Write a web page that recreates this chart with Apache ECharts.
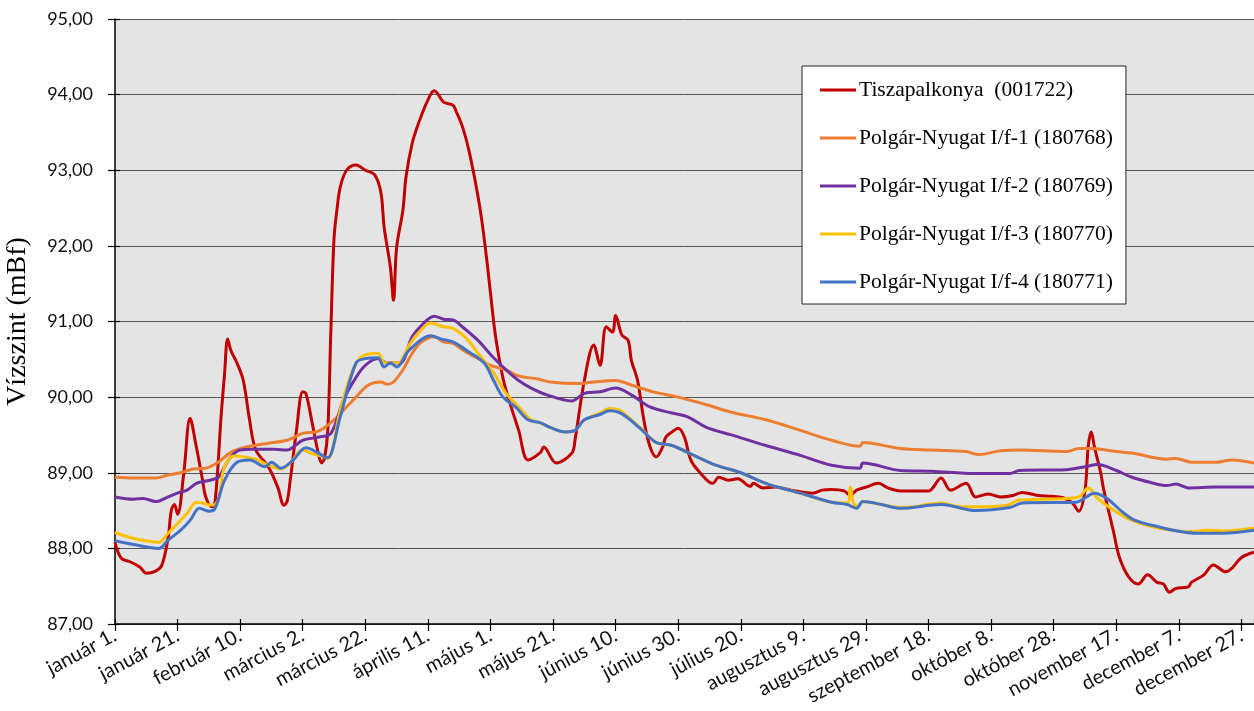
<!DOCTYPE html>
<html lang="hu">
<head>
<meta charset="utf-8">
<title>Vízszint</title>
<script src="https://cdn.jsdelivr.net/npm/echarts@6/dist/echarts.min.js"></script>
<style>
  html, body { margin: 0; padding: 0; background: #ffffff; }
  #chart { width: 1254px; height: 711px; }
</style>
</head>
<body>
<div id="chart"></div>
<script>
// Day-of-year tick labels (every 20 days from January 1)
const dateLabels = [
  'január 1.', 'január 21.', 'február 10.', 'március 2.', 'március 22.',
  'április 11.', 'május 1.', 'május 21.', 'június 10.', 'június 30.',
  'július 20.', 'augusztus 9.', 'augusztus 29.', 'szeptember 18.', 'október 8.',
  'október 28.', 'november 17.', 'december 7.', 'december 27.'
];

const seriesNames = [
  'Tiszapalkonya  (001722)',
  'Polgár-Nyugat I/f-1 (180768)',
  'Polgár-Nyugat I/f-2 (180769)',
  'Polgár-Nyugat I/f-3 (180770)',
  'Polgár-Nyugat I/f-4 (180771)'
];

// [day of year, water level in mBf]
const tiszapalkonya = [
  [0,88.08],[2,87.87],[5,87.82],[8,87.75],[10,87.67],[13,87.70],[15,87.78],[17,88.15],
  [18,88.50],[19,88.58],[20,88.45],[22,89.00],[24,89.72],[26,89.34],[28,88.90],[29,88.68],
  [31,88.55],[32,88.62],[34,89.80],[35,90.30],[36,90.77],[37,90.62],[39,90.45],[41,90.22],
  [43,89.70],[45,89.30],[49,89.08],[52,88.81],[54,88.57],[55,88.62],[56,88.90],[58,89.56],
  [60,90.07],[61,90.05],[63,89.66],[65,89.25],[66,89.13],[67,89.20],[68,89.56],[69,90.90],
  [70,92.10],[71,92.50],[72,92.78],[74,93.00],[77,93.07],[80,93.00],[83,92.94],[85,92.70],
  [86,92.25],[88,91.72],[89,91.28],[90,91.98],[92,92.47],[93,92.91],[95,93.36],[97,93.62],
  [100,93.93],[102,94.05],[103,94.02],[105,93.90],[108,93.86],[109,93.78],[111,93.58],
  [113,93.28],[115,92.88],[117,92.40],[119,91.75],[121,91.00],[122,90.70],[124,90.25],
  [126,89.95],[129,89.56],[132,89.17],[136,89.27],[137,89.34],[141,89.13],[146,89.26],[147,89.43],
  [150,90.22],[153,90.69],[155,90.42],[157,90.93],[159,90.86],[160,91.08],[162,90.82],
  [164,90.75],[165,90.49],[167,90.22],[169,89.70],[171,89.34],[173,89.21],[175,89.34],
  [176,89.47],[178,89.54],[180,89.59],[182,89.47],[184,89.17],[187,89.00],[191,88.86],
  [193,88.94],[196,88.90],[199,88.92],[203,88.82],[204,88.86],[207,88.80],[211,88.81],
  [216,88.77],[223,88.73],[226,88.77],[229,88.78],[233,88.76],[235,88.70],[237,88.77],
  [240,88.81],[244,88.86],[247,88.80],[251,88.76],[255,88.76],[260,88.76],[264,88.93],
  [267,88.77],[272,88.86],[275,88.68],[279,88.72],[283,88.68],[287,88.70],[290,88.74],
  [295,88.70],[299,88.69],[303,88.67],[306,88.60],[308,88.49],[310,88.77],[311,89.34],
  [312,89.54],[313,89.34],[315,89.00],[316,88.77],[319,88.24],[321,87.88],[324,87.62],
  [327,87.53],[330,87.65],[333,87.55],[335,87.53],[337,87.42],[339,87.47],[343,87.49],
  [344,87.55],[348,87.65],[351,87.78],[355,87.69],[357,87.74],[360,87.88],[364,87.95]
];

const polgarF1 = [
  [0,88.94],[6,88.93],[13,88.93],[17,88.97],[21,89.00],[25,89.05],[29,89.06],[33,89.14],
  [37,89.27],[42,89.34],[49,89.39],[55,89.43],[60,89.52],[65,89.55],[70,89.70],[74,89.87],
  [77,90.00],[81,90.16],[85,90.20],[87,90.17],[89,90.20],[92,90.36],[95,90.58],[98,90.73],
  [102,90.80],[105,90.73],[108,90.71],[112,90.60],[117,90.49],[120,90.42],[125,90.36],
  [129,90.28],[135,90.24],[139,90.20],[148,90.18],[153,90.20],[160,90.22],[165,90.16],
  [172,90.07],[180,90.00],[189,89.90],[197,89.80],[208,89.70],[219,89.56],[229,89.43],
  [238,89.35],[239,89.40],[251,89.32],[261,89.30],[272,89.28],[276,89.24],[283,89.29],
  [289,89.30],[304,89.28],[308,89.32],[312,89.32],[320,89.28],[325,89.26],[336,89.18],
  [339,89.19],[344,89.14],[352,89.14],[357,89.17],[364,89.13]
];

const polgarF2 = [
  [0,88.68],[6,88.65],[9,88.66],[13,88.62],[17,88.68],[20,88.73],[23,88.77],[26,88.86],
  [29,88.89],[33,88.94],[35,89.08],[37,89.21],[40,89.30],[44,89.31],[51,89.31],[55,89.30],
  [57,89.34],[60,89.43],[65,89.47],[69,89.52],[73,89.96],[77,90.26],[80,90.42],[84,90.51],
  [87,90.45],[91,90.45],[95,90.80],[98,90.95],[102,91.07],[105,91.03],[108,91.02],
  [111,90.93],[116,90.75],[121,90.52],[125,90.36],[129,90.22],[133,90.12],[138,90.03],
  [146,89.95],[150,90.05],[155,90.07],[160,90.12],[165,90.03],[171,89.87],[178,89.79],
  [183,89.74],[189,89.60],[197,89.50],[208,89.36],[219,89.23],[229,89.10],[238,89.06],
  [239,89.13],[251,89.03],[261,89.02],[275,88.99],[286,88.99],[289,89.03],[304,89.04],
  [310,89.08],[314,89.11],[320,89.03],[325,88.94],[331,88.87],[336,88.83],[339,88.85],
  [343,88.80],[352,88.81],[357,88.81],[364,88.81]
];

const polgarF3 = [
  [0,88.21],[6,88.13],[10,88.10],[14,88.08],[17,88.20],[20,88.33],[23,88.46],[26,88.61],
  [28,88.60],[31,88.57],[33,88.64],[35,89.08],[38,89.22],[41,89.21],[45,89.18],[49,89.10],
  [53,89.05],[56,89.13],[60,89.30],[63,89.25],[66,89.22],[68,89.19],[72,89.83],[76,90.36],
  [79,90.54],[84,90.58],[86,90.46],[89,90.45],[91,90.46],[94,90.69],[97,90.85],[101,90.98],
  [105,90.93],[108,90.91],[112,90.79],[116,90.58],[121,90.32],[125,90.05],[129,89.87],
  [133,89.70],[136,89.66],[139,89.60],[144,89.54],[147,89.56],[150,89.70],[155,89.79],
  [158,89.85],[161,89.83],[164,89.74],[168,89.59],[173,89.40],[178,89.36],[185,89.23],
  [192,89.10],[200,89.00],[208,88.86],[219,88.73],[229,88.61],[234,88.60],[235,88.81],
  [236,88.60],[237,88.55],[239,88.62],[245,88.58],[251,88.54],[256,88.55],[258,88.57],
  [264,88.60],[270,88.55],[275,88.55],[285,88.57],[289,88.64],[297,88.65],[304,88.66],
  [308,88.68],[311,88.80],[314,88.66],[320,88.48],[325,88.37],[331,88.29],[338,88.24],
  [343,88.22],[349,88.24],[354,88.23],[364,88.27]
];

const polgarF4 = [
  [0,88.10],[6,88.05],[14,88.00],[17,88.11],[21,88.24],[24,88.37],[27,88.53],[30,88.49],
  [32,88.53],[35,88.90],[39,89.14],[43,89.17],[48,89.08],[50,89.14],[53,89.06],[57,89.17],
  [61,89.33],[65,89.26],[67,89.21],[68,89.20],[72,89.74],[77,90.45],[80,90.51],[84,90.52],
  [86,90.40],[88,90.45],[90,90.40],[94,90.62],[101,90.81],[104,90.77],[108,90.73],
  [113,90.60],[118,90.45],[121,90.22],[124,90.00],[128,89.87],[132,89.70],[136,89.66],
  [139,89.60],[144,89.54],[147,89.56],[150,89.70],[155,89.77],[158,89.82],[161,89.80],
  [164,89.72],[168,89.58],[173,89.40],[178,89.36],[185,89.23],[192,89.10],[200,89.00],
  [208,88.86],[219,88.73],[229,88.61],[234,88.58],[237,88.53],[239,88.62],[245,88.58],
  [251,88.53],[264,88.58],[275,88.50],[286,88.54],[290,88.60],[307,88.61],[309,88.64],
  [313,88.73],[317,88.66],[322,88.48],[326,88.37],[334,88.28],[341,88.22],[346,88.20],
  [354,88.20],[364,88.24]
];

const seriesData = [tiszapalkonya, polgarF1, polgarF2, polgarF3, polgarF4];
const seriesColors = ['#c00000', '#ed7d31', '#7030a0', '#ffc000', '#4472c4'];

const chart = echarts.init(document.getElementById('chart'), null, { renderer: 'canvas' });

const labelFont = 'Lato, "Open Sans", sans-serif';
const serifFont = '"Liberation Serif", "DejaVu Serif", serif';

chart.setOption({
  animation: false,
  backgroundColor: '#ffffff',
  grid: {
    left: 115, right: 0, top: 19, bottom: 87,
    outerBoundsMode: 'none',
    containLabel: false,
    show: true, backgroundColor: '#e4e4e4', borderWidth: 0
  },
  legend: {
    orient: 'vertical',
    left: 802, top: 66,
    backgroundColor: '#ffffff',
    borderColor: '#222222', borderWidth: 1,
    padding: [13, 13, 11, 18],
    itemGap: 26,
    itemWidth: 36, itemHeight: 3,
    icon: 'rect',
    textStyle: {
      fontFamily: serifFont, fontSize: 21.5, lineHeight: 22, color: '#000',
      padding: [0, 0, 0, -2]
    },
    data: seriesNames
  },
  xAxis: [{
    type: 'value', min: 0, max: 364, interval: 20,
    position: 'bottom',
    axisLine: { show: true, lineStyle: { color: '#000', width: 1.5 } },
    axisTick: { show: true, length: 7, lineStyle: { color: '#000', width: 1.2 } },
    splitLine: { show: false },
    axisLabel: {
      rotate: 28, margin: 10, showMaxLabel: false,
      fontFamily: labelFont, fontSize: 20, color: '#111',
      formatter: v => (v % 20 === 0 && dateLabels[v / 20]) ? dateLabels[v / 20] : ''
    }
  }, {
    type: 'value', min: 0, max: 364, interval: 20,
    position: 'bottom',
    axisLine: { show: false },
    axisTick: { show: true, inside: true, length: 5, lineStyle: { color: '#000', width: 1.2 } },
    axisLabel: { show: false }, splitLine: { show: false }
  }],
  yAxis: [{
    type: 'value', min: 87, max: 95, interval: 1,
    name: 'Vízszint (mBf)', nameLocation: 'middle', nameGap: 83,
    nameTextStyle: { fontFamily: serifFont, fontSize: 28, color: '#000' },
    axisLine: { show: true, lineStyle: { color: '#000', width: 1.5 } },
    axisTick: { show: true, length: 7, lineStyle: { color: '#000', width: 1.2 } },
    splitLine: { show: true, lineStyle: { color: '#555555', width: 1 } },
    axisLabel: {
      margin: 22, fontFamily: labelFont, fontSize: 18, color: '#111',
      formatter: v => v.toFixed(2).replace('.', ',')
    }
  }, {
    type: 'value', min: 87, max: 95, interval: 1,
    position: 'left',
    axisLine: { show: false },
    axisTick: { show: true, inside: true, length: 5, lineStyle: { color: '#000', width: 1.2 } },
    axisLabel: { show: false }, splitLine: { show: false }
  }],
  series: seriesNames.map((name, i) => ({
    name,
    type: 'line',
    xAxisIndex: 0, yAxisIndex: 0,
    data: seriesData[i],
    smooth: 0.35,
    symbol: 'none',
    color: seriesColors[i],
    lineStyle: { color: seriesColors[i], width: 3 },
    z: 2 + i
  }))
});
</script>
</body>
</html>
